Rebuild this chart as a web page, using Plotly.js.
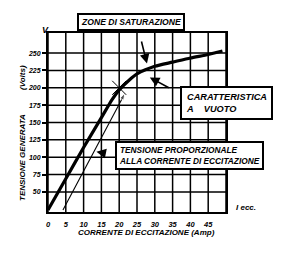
<!DOCTYPE html>
<html>
<head>
<meta charset="utf-8">
<script src="https://cdn.plot.ly/plotly-3.0.1.min.js"></script>
<style>html,body{margin:0;padding:0;background:#fff}#chart{width:284px;height:258px}</style>
</head>
<body>
<div id="chart"></div>
<script>
// No-load characteristic (caratteristica a vuoto)
const ampere = [0, 5, 10, 15, 18, 20, 23, 25, 30, 35, 40, 45, 49];
const volts  = [24, 69, 114, 157, 183, 197, 212, 220, 231, 237, 243, 248, 253];
// Voltage proportional to excitation current
const propAmpere = [4.2, 21.6];
const propVolts  = [24, 192];
// Knee mark
const kneeAmpere = [20];
const kneeVolts  = [200];
// Tick labels
const xTicks = [0, 5, 10, 15, 20, 25, 30, 35, 40, 45];
const yTicks = [50, 75, 100, 125, 150, 175, 200, 225, 250];
const xGrid = [0, 5, 10, 15, 20, 25, 30, 35, 40, 45, 50];

const F = {family: 'Liberation Sans, Arial, sans-serif', color: '#000', weight: 'bold', style: 'italic'};
const f = s => Object.assign({}, F, {size: s});
const px = v => (v - 48) / 178;
const py = v => (212 - v) / 179;
const lab = (x, y, text, size, extra) => Object.assign({xref: 'paper', yref: 'paper', x: px(x), y: py(y),
  xanchor: 'center', yanchor: 'middle', text: text, showarrow: false, font: f(size)}, extra || {});

const traces = [
  {x: ampere, y: volts, type: 'scatter', mode: 'lines',
   line: {color: '#000', width: 3.2, shape: 'spline', smoothing: 0.6}, hoverinfo: 'skip'},
  {x: propAmpere, y: propVolts, type: 'scatter', mode: 'lines+markers',
   line: {color: '#000', width: 1.1},
   marker: {symbol: ['circle', 'arrow'], size: [0, 7], angleref: 'previous', color: '#000'}, hoverinfo: 'skip'},
  {x: kneeAmpere, y: kneeVolts, type: 'scatter', mode: 'markers',
   marker: {symbol: 'x-thin-open', size: 14, color: '#000', line: {color: '#000', width: 1}}, hoverinfo: 'skip'}
];

const layout = {
  width: 284, height: 258,
  margin: {l: 48, r: 58, t: 33, b: 46},
  paper_bgcolor: '#fff', plot_bgcolor: '#fff',
  showlegend: false,
  xaxis: {range: [0, 50], tickvals: xTicks, ticktext: xTicks.map(String),
    showgrid: false, zeroline: false, showline: true, mirror: true,
    linecolor: '#000', linewidth: 2, ticks: '', ticklabelstandoff: 4,
    tickfont: f(7.5), fixedrange: true},
  yaxis: {range: [21, 279], tickvals: yTicks, ticktext: yTicks.map(String),
    showgrid: false, zeroline: false, showline: true, mirror: true,
    linecolor: '#000', linewidth: 2, ticks: 'outside', ticklen: 4, tickwidth: 2, tickcolor: '#000',
    tickfont: f(7), fixedrange: true},
  shapes: [],
  annotations: [
    lab(130.5, 22, 'ZONE DI SATURAZIONE', 8.6, {bordercolor: '#000', borderwidth: 2, borderpad: 2, bgcolor: '#fff'}),
    lab(226, 103, 'CARATTERISTICA<br>A&nbsp;&nbsp;&nbsp;&nbsp;VUOTO&nbsp;&nbsp;&nbsp;&nbsp;&nbsp;&nbsp;&nbsp;&nbsp;&nbsp;&nbsp;&nbsp;', 9.2,
      {bordercolor: '#000', borderwidth: 2, borderpad: 4, bgcolor: '#fff', align: 'left'}),
    lab(189, 155, 'TENSIONE PROPORZIONALE<br>ALLA CORRENTE DI ECCITAZIONE', 8.3,
      {bordercolor: '#000', borderwidth: 2, borderpad: 2, bgcolor: '#fff', align: 'left'}),
    // arrows
    {x: 27.8, y: 235, xref: 'x', yref: 'y', text: ' ', showarrow: true, ax: -8, ay: -32,
     arrowhead: 2, arrowsize: 1.2, arrowwidth: 1.6, arrowcolor: '#000'},
    {x: 28.6, y: 215, xref: 'x', yref: 'y', text: ' ', showarrow: true, ax: 22, ay: 12,
     arrowhead: 2, arrowsize: 1.2, arrowwidth: 1.6, arrowcolor: '#000'},
    {x: 13.6, y: 108, xref: 'x', yref: 'y', text: ' ', showarrow: true, ax: 10, ay: 2,
     arrowhead: 2, arrowsize: 1.2, arrowwidth: 1.6, arrowcolor: '#000'},
    // axis labels
    lab(45, 30, 'V', 9),
    lab(22, 78, '(Volts)', 8, {textangle: -90}),
    lab(22, 158, 'TENSIONE GENERATA', 8, {textangle: -90}),
    lab(146, 232, 'CORRENTE DI ECCITAZIONE (Amp)', 8),
    lab(246, 207, 'I ecc.', 8)
  ]
};

// grid lines drawn as axis-referenced shapes
xGrid.forEach(v => layout.shapes.push({type: 'line', xref: 'x', yref: 'paper', x0: v, x1: v, y0: 0, y1: 1,
  line: {color: '#000', width: 1.5}, layer: 'below'}));
yTicks.forEach(v => layout.shapes.push({type: 'line', xref: 'paper', yref: 'y', x0: 0, x1: 1, y0: v, y1: v,
  line: {color: '#000', width: 1.5}, layer: 'below'}));

Plotly.newPlot('chart', traces, layout, {displayModeBar: false, staticPlot: true});
</script>
</body>
</html>
